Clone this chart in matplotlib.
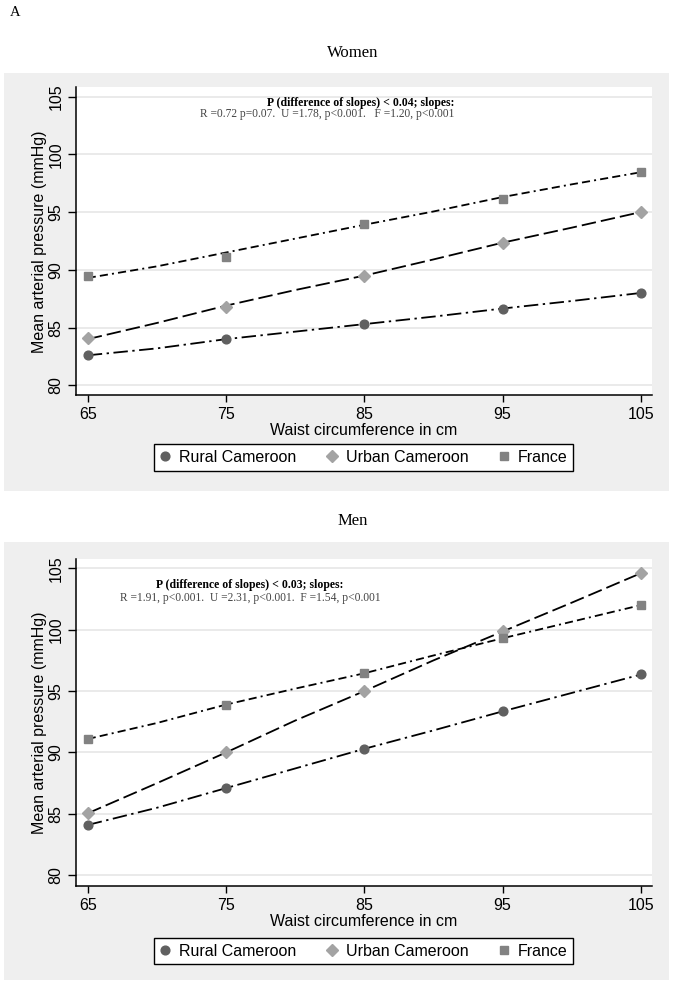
import matplotlib
matplotlib.use("Agg")
import matplotlib.pyplot as plt
from matplotlib.patches import Rectangle
from matplotlib.lines import Line2D

W, H = 673, 989

# mean values at each waist circumference (markers)
waist = [65, 75, 85, 95, 105]
women_rural = [82.6, 84.0, 85.3, 86.65, 88.0]
women_urban = [84.1, 86.8, 89.5, 92.3, 95.0]
women_france = [89.5, 91.15, 94.0, 96.1, 98.5]
men_rural = [84.1, 87.1, 90.3, 93.4, 96.4]
men_urban = [85.1, 90.0, 95.0, 99.9, 104.6]
men_france = [91.1, 93.9, 96.5, 99.3, 102.0]

# fitted curves
fit_x = [65, 70, 75, 80, 85, 90, 95, 100, 105]
women_rural_fit = [82.6, 83.2, 84.0, 84.65, 85.3, 85.95, 86.65, 87.3, 88.0]
women_urban_fit = [84.0, 85.4, 86.9, 88.25, 89.5, 90.9, 92.35, 93.65, 95.0]
women_france_fit = [89.3, 90.3, 91.5, 92.7, 93.9, 95.05, 96.3, 97.4, 98.45]
men_rural_fit = [84.1, 85.5, 87.1, 88.7, 90.3, 91.8, 93.35, 94.85, 96.35]
men_urban_fit = [85.05, 87.5, 90.0, 92.6, 95.0, 97.5, 99.85, 102.2, 104.6]
men_france_fit = [91.1, 92.4, 93.9, 95.2, 96.45, 97.9, 99.3, 100.65, 102.0]

groups = ["Rural Cameroon", "Urban Cameroon", "France"]
x_ticks = [65, 75, 85, 95, 105]
y_ticks = [80, 85, 90, 95, 100, 105]

marker_style = {
    "Rural Cameroon": dict(marker="o", color="#606060", ms=6.3),
    "Urban Cameroon": dict(marker="D", color="#a3a3a3", ms=6.0),
    "France": dict(marker="s", color="#828282", ms=5.8),
}
dash_style = {
    "Rural Cameroon": (0, (8, 2.5, 1.3, 2.5)),
    "Urban Cameroon": (0, (8, 2.8)),
    "France": (0, (4.5, 2.3, 4.5, 2.3, 1.1, 2.3)),
}

SANS = ["Liberation Sans", "DejaVu Sans"]
SERIF = ["Liberation Serif", "DejaVu Serif"]
GREY_BG = "#efefef"

fig = plt.figure(figsize=(W / 100, H / 100), dpi=100)
fig.patch.set_facecolor("white")


def px_rect(x0, y0, x1, y1):
    return [x0 / W, 1 - y1 / H, (x1 - x0) / W, (y1 - y0) / H]


def panel(title, title_y, bg, ax_box, ylim, series, fits, note, legend_y):
    # grey graph region
    fig.add_artist(Rectangle((bg[0] / W, 1 - bg[3] / H), (bg[2] - bg[0]) / W,
                             (bg[3] - bg[1]) / H, transform=fig.transFigure,
                             facecolor=GREY_BG, edgecolor="none", zorder=-5))
    fig.text(353 / W, 1 - title_y / H, title, family=SERIF, fontsize=12,
             ha="center", va="center")

    ax = fig.add_axes(px_rect(*ax_box))
    ax.set_facecolor("white")
    for g, fy, my in zip(groups, fits, series):
        ax.plot(fit_x, fy, color="black", lw=1.3, ls=dash_style[g], zorder=3)
        st = marker_style[g]
        ax.plot(waist, my, ls="none", marker=st["marker"], color=st["color"],
                ms=st["ms"], mec=st["color"], zorder=4)

    ax.set_xlim(64.15, 105.78)
    ax.set_ylim(*ylim)
    ax.set_xticks(x_ticks)
    ax.set_yticks(y_ticks)
    ax.grid(axis="y", color="#e6e6e6", lw=1.2)
    ax.set_axisbelow(True)
    for s in ["top", "right"]:
        ax.spines[s].set_visible(False)
    for s in ["left", "bottom"]:
        ax.spines[s].set_linewidth(1.1)
    ax.tick_params(axis="x", length=5, width=1, pad=3.5, labelsize=11.5)
    ax.tick_params(axis="y", length=6, width=1, pad=3, labelsize=11.5)
    for lab in ax.get_xticklabels() + ax.get_yticklabels():
        lab.set_family(SANS)
    for lab in ax.get_yticklabels():
        lab.set_rotation(90)
        lab.set_va("center")
    ax.set_xlabel("Waist circumference in cm", family=SANS, fontsize=11.5,
                  labelpad=0.5)
    ax.set_ylabel("Mean arterial pressure (mmHg)", family=SANS, fontsize=11.5,
                  labelpad=1)

    # slope note
    nx, ny1, ny2, ha = note["pos"]
    fig.text(nx / W, 1 - ny1 / H, note["head"], family=SERIF, fontsize=8.5,
             fontweight="bold", ha=ha, va="center")
    fig.text(nx / W, 1 - ny2 / H, note["body"], family=SERIF, fontsize=8.3,
             color="#444444", ha=ha, va="center")

    handles = [Line2D([], [], ls="none", marker=marker_style[g]["marker"],
                      color=marker_style[g]["color"], ms=marker_style[g]["ms"])
               for g in groups]
    leg = fig.legend(handles, groups, loc="center", ncol=3,
                     bbox_to_anchor=(363.5 / W, 1 - legend_y / H),
                     prop={"family": SANS, "size": 11.5}, frameon=True,
                     fancybox=False, edgecolor="black", framealpha=1,
                     handlelength=0.7, handletextpad=0.5, columnspacing=1.9,
                     borderpad=0.35)
    leg.get_frame().set_linewidth(1.0)
    return ax


fig.text(10 / W, 1 - 12 / H, "A", family=SERIF, fontsize=10.5,
         ha="left", va="center")

panel("Women", 53, (4, 72.7, 669, 491), (76, 87.3, 651.7, 395.4),
      (79.13, 105.8), [women_rural, women_urban, women_france],
      [women_rural_fit, women_urban_fit, women_france_fit],
      {"head": "P (difference of slopes) < 0.04; slopes:",
       "body": "R =0.72 p=0.07.  U =1.78, p<0.001.   F =1.20, p<0.001",
       "pos": (454, 103, 114.5, "right")}, 457.5)

panel("Men", 521, (4, 542.3, 669, 980), (76, 559.3, 651.7, 886),
      (79.13, 105.73), [men_rural, men_urban, men_france],
      [men_rural_fit, men_urban_fit, men_france_fit],
      {"head": "P (difference of slopes) < 0.03; slopes:",
       "body": "R =1.91, p<0.001.  U =2.31, p<0.001.  F =1.54, p<0.001",
       "pos": (250, 585, 597.5, "center")}, 951)

fig.savefig("out.png", dpi=100)
